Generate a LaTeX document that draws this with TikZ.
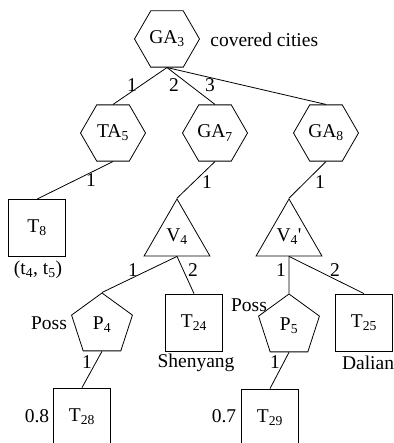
\documentclass[tikz,border=0pt]{standalone}
\usepackage{fontspec}
\setmainfont{Liberation Serif}
\usetikzlibrary{shapes.geometric,positioning}
\tikzset{hexa/.style={draw,regular polygon,regular polygon sides=6,minimum size=65pt,inner sep=0pt},penta/.style={draw,regular polygon,regular polygon sides=5,minimum size=64pt,inner sep=0pt},tri/.style={draw,regular polygon,regular polygon sides=3,minimum size=76pt,inner sep=0pt},sq/.style={draw,minimum size=57pt,inner sep=0pt},lab/.style={inner sep=0pt},link/.style={line width=.8pt}}

\begin{document}
\begin{tikzpicture}[x=1pt,y=-1pt,line width=.8pt,font=\fontsize{19.5}{21}\selectfont]
\useasboundingbox (0,0) rectangle (393,443);
% shapes
\node[hexa] (ga3) at (167,39) {GA\textsubscript{3}};
\node[hexa] (ta5) at (113,133) {TA\textsubscript{5}};
\node[hexa] (ga7) at (215,133) {GA\textsubscript{7}};
\node[hexa] (ga8) at (326,133) {GA\textsubscript{8}};
\node[sq] (t8) at (37,228) {T\textsubscript{8}};
\node[tri] (v4) at (177,237) {V\textsubscript{4}};
\node[tri] (v4p) at (289,237) {V\textsubscript{4}\textquotesingle};
\node[penta] (p4) at (102,325) {P\textsubscript{4}};
\node[sq] (t24) at (194,322.5) {T\textsubscript{24}};
\node[penta] (p5) at (289,326) {P\textsubscript{5}};
\node[sq] (t25) at (364,322.5) {T\textsubscript{25}};
\node[sq] (t28) at (82,416.5) {T\textsubscript{28}};
\node[sq] (t29) at (270,417.5) {T\textsubscript{29}};
% links
\draw[link] (ga3.south) -- (ta5.north);
\draw[link] (ga3.south) -- (ga7.north);
\draw[link] (ga3.south) -- (ga8.north);
\draw[link] (ta5.south) -- (t8.north);
\draw[link] (ga7.south) -- (v4.north);
\draw[link] (ga8.south) -- (v4p.north);
\draw[link] (v4.south) -- (p4.north);
\draw[link] (v4.south) -- (t24.north);
\draw[link] (v4p.south) -- (p5.north);
\draw[link] (v4p.south) -- (t25.north);
\draw[link] (p4.south) -- (t28.north);
\draw[link] (p5.south) -- (t29.north);
% numbers on links
\node[lab] (n1) at (132,85) {1};
\node[lab] (n2) at (174,85) {2};
\node[lab] (n3) at (210,85) {3};
\node[lab] (n4) at (91,180) {1};
\node[lab] (n5) at (207,182) {1};
\node[lab] (n6) at (320,182) {1};
\node[lab] (n7) at (133,270) {1};
\node[lab] (n8) at (193,270) {2};
\node[lab] (n9) at (281,270) {1};
\node[lab] (n10) at (335,270) {2};
\node[lab] (n11) at (87,362) {1};
\node[lab] (n12) at (275,362) {1};
% notes
\node[lab,anchor=west] (cov) at (210,40) {covered cities};
\node[lab] (tt) at (38,270) {(t\textsubscript{4}, t\textsubscript{5})};
\node[lab] (poss4) at (49,323) {Poss};
\node[lab] (poss5) at (249,305) {Poss};
\node[lab] (shen) at (196,363) {Shenyang};
\node[lab] (dal) at (368,363) {Dalian};
\node[lab] (w8) at (37,416) {0.8};
\node[lab] (w7) at (224,416) {0.7};
\end{tikzpicture}
\end{document}
